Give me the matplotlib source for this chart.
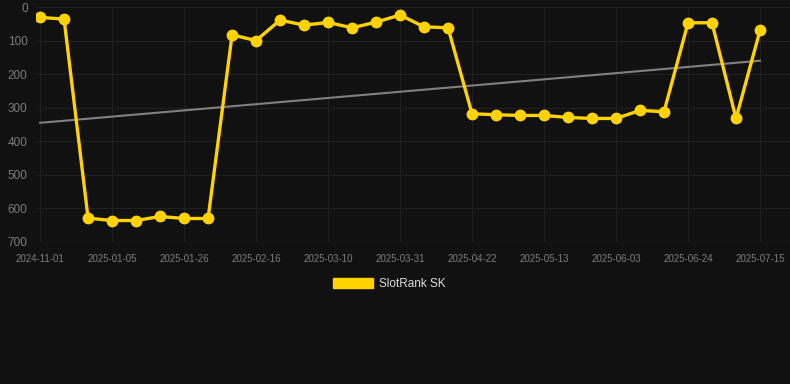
import matplotlib
matplotlib.use("Agg")
import matplotlib.pyplot as plt
from matplotlib.patches import Patch
import numpy as np

plt.rcParams['font.family'] = ['Liberation Sans', 'DejaVu Sans']

# weekly rank points (lower = better, axis inverted)
dates = ["2024-11-01", "2024-11-08", "2024-12-29", "2025-01-05", "2025-01-12", "2025-01-19",
         "2025-01-26", "2025-02-02", "2025-02-09", "2025-02-16", "2025-02-23", "2025-03-02",
         "2025-03-10", "2025-03-17", "2025-03-24", "2025-03-31", "2025-04-07", "2025-04-14",
         "2025-04-22", "2025-04-29", "2025-05-06", "2025-05-13", "2025-05-20", "2025-05-27",
         "2025-06-03", "2025-06-10", "2025-06-17", "2025-06-24", "2025-07-01", "2025-07-08",
         "2025-07-15"]
ranks = [31, 36, 629, 636, 636, 624, 630, 630, 83, 100, 39, 54, 46, 62, 45, 24, 59, 62,
         318, 321, 323, 323, 329, 332, 332, 308, 312, 47, 47, 332, 70]
trend = [345, 160]   # trend line start / end values
series_name = "SlotRank SK"

bg = "#111111"
gold = "#FFD200"
grid_c = "#202020"
tick_c = "#7c7c7c"

fig = plt.figure(figsize=(7.9, 3.84), dpi=100, facecolor=bg)
ax = fig.add_axes([36/790, 1-242/384, 754/790, 235/384], facecolor=bg)

x = np.arange(len(ranks))
ax.plot([x[0], x[-1]], trend, color="#808080", lw=1.5, zorder=2)
ax.plot(x, ranks, color=gold, lw=2.4, marker="o", markersize=7.5, zorder=3)

ax.set_xlim(-0.17, 31.25)
ax.set_ylim(700, 0)
ax.set_yticks(np.arange(0, 701, 100))
ax.set_xticks(x[::3])
ax.set_xticklabels(dates[::3])

ax.grid(True, color=grid_c, lw=0.8)
ax.axhline(700, color="#2a2a2a", lw=0.9, zorder=1)
ax.set_axisbelow(True)
for s in ax.spines.values():
    s.set_visible(False)
ax.tick_params(axis="x", length=0, labelcolor=tick_c, labelsize=7, pad=9)
ax.tick_params(axis="y", length=0, labelcolor=tick_c, labelsize=8.5, pad=6)

fig.legend(handles=[Patch(color=gold, label=series_name)], loc="center",
           bbox_to_anchor=(0.5 - 6/790, 1-284/384), frameon=False, fontsize=8.5,
           labelcolor="#dddddd", handlelength=3.4, handleheight=1.0, handletextpad=0.5)

fig.savefig("out.png", dpi=100, facecolor=bg)
